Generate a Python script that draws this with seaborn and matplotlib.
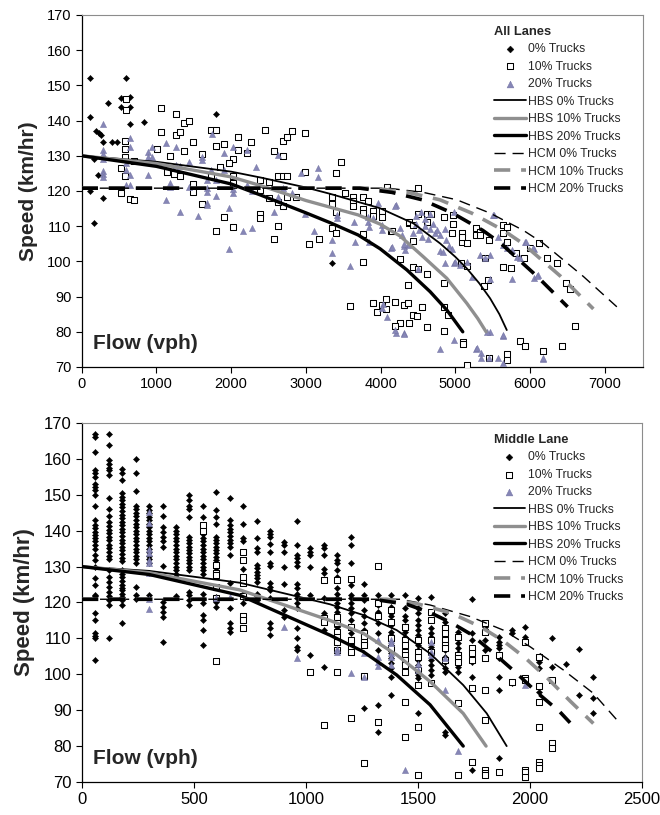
import matplotlib
matplotlib.use("Agg")
import matplotlib.pyplot as plt
import seaborn as sns

sns.set_style("ticks")
plt.rcParams["font.family"] = ["Liberation Sans", "DejaVu Sans"]

# ---------------- All Lanes (top panel) ----------------
all_0 = [(110, 152), (590, 152), (530, 146.5), (645, 146.8), (530, 144), (645, 144),
         (350, 145), (110, 141), (645, 139), (830, 139.5), (1795, 142), (185, 137),
         (230, 136.5), (260, 136), (280, 134), (410, 134), (470, 134), (165, 129),
         (220, 124.5), (110, 120), (290, 118), (170, 111), (3355, 99.5)]

all_10 = [(590, 146), (590, 143), (1060, 143.7), (1260, 142), (1370, 139.4), (1435, 140),
          (1060, 136.7), (1260, 136), (1315, 136.7), (1495, 134), (1730, 137.3), (1795, 137.3),
          (1795, 132.8), (1910, 133.4), (2090, 135.4), (2090, 131.6), (2030, 129.1), (1970, 127.9),
          (1850, 126.9), (2210, 130.7), (2270, 133.9), (2450, 137.3), (2570, 131.5), (2690, 134.2),
          (2750, 135.4), (2810, 137), (2990, 136.6), (2690, 129.9), (2630, 124.3), (2690, 124.3),
          (2750, 124.3), (2990, 125.3), (2510, 122.6), (2390, 123.1), (3405, 125.2), (3465, 128.2),
          (3525, 119.5), (1615, 130.4), (1370, 131.4), (1005, 131.9), (1180, 130), (580, 134.2),
          (580, 131.8), (580, 129.7), (580, 124.3), (705, 128.6), (525, 126.4), (525, 119.3),
          (645, 117.6), (705, 117.4), (1140, 125.3), (1240, 124.9), (1315, 124.4), (1495, 122),
          (1495, 119.6), (1730, 124.4), (2030, 124.3), (2030, 122.4), (2870, 118.4), (2750, 118.4),
          (1615, 116.2), (1795, 108.7), (1910, 112.7), (2030, 109.9), (2390, 113.4), (2390, 112.4),
          (2390, 120.3), (2570, 106.4), (2630, 110.1), (2690, 115.7), (2510, 117.9), (2630, 116.8),
          (3045, 105), (3170, 106.3), (3347, 118.4), (3347, 116.3), (3347, 109.6), (3404, 113.9),
          (3404, 108), (3636, 118.4), (3636, 117.2), (3636, 115.8), (3770, 118.4), (3770, 114.9),
          (3770, 113.7), (3829, 117.2), (3904, 114.4), (3904, 112.9), (4016, 114.4), (4016, 112.5),
          (4083, 121), (4136, 108.6), (3770, 107.7), (3770, 99.9), (3592, 87.3), (3896, 88.3),
          (3949, 85.5), (4016, 87.6), (4074, 89.2), (4074, 86.4), (4372, 93.3), (4261, 100.7),
          (4440, 98.5), (4498, 97.8), (4618, 96.3), (4431, 105.8), (4498, 113.4), (4498, 120.9),
          (4618, 113.4), (4618, 111.3), (4676, 113.4), (4382, 111), (4854, 112.5), (4854, 93.8),
          (4975, 110.5), (4975, 113.2), (5087, 108.2), (5087, 105.6), (5154, 105.1), (5274, 109.6),
          (5274, 107.5), (5332, 108.3), (5332, 107.5), (5452, 106.1), (5644, 110.3), (5636, 108),
          (5689, 105.4), (5689, 109.7), (5636, 98.5), (5747, 98), (5810, 102.3), (5925, 100.9),
          (5390, 93), (5443, 94.7), (5399, 100.9), (4854, 87.1), (4908, 84.8), (4618, 81.4),
          (4854, 80.3), (5108, 77), (5108, 76.4), (5154, 70.6), (5456, 72.6), (5689, 73.6),
          (5689, 72), (5867, 77.4), (5934, 76), (6171, 74.5), (6426, 76), (6604, 81.7),
          (6483, 94), (6537, 92.1), (6233, 101), (6359, 99.5), (6118, 105.3), (6001, 103.9),
          (4315, 87.6), (4372, 88.3), (4440, 84.8), (4494, 84.5), (4552, 87.1), (4261, 82.4),
          (4194, 81.7), (4382, 82.6), (4150, 108.7), (4385, 111.1), (4440, 110.3), (4961, 108),
          (5096, 107), (5083, 99.5), (5154, 98.7), (4188, 88.6)]

all_20 = [(290, 139), (290, 131.6), (290, 130.5), (290, 129), (290, 125.6), (290, 124.7),
          (290, 124), (590, 127.9), (590, 126), (590, 121.7), (645, 135.1), (645, 132.6),
          (645, 124.5), (645, 121.7), (885, 131.2), (885, 129.7), (885, 128.2), (885, 124.5),
          (945, 132.6), (945, 129.7), (1130, 133.7), (1260, 132.6), (1260, 127.4), (1315, 127.2),
          (1440, 128.2), (1440, 121), (1615, 129.7), (1615, 128.8), (1740, 136.1), (1730, 126),
          (1795, 123.1), (1910, 130.7), (1910, 126), (2030, 132.6), (2210, 131.6), (2210, 121.7),
          (2335, 126.9), (2630, 130.2), (2690, 120.8), (2810, 119.5), (2930, 125.2), (3165, 126.4),
          (3165, 124), (1675, 123.1), (1675, 120.8), (1130, 117.4), (1180, 122.2), (1180, 121.2),
          (1315, 114.1), (1560, 112.9), (1675, 119.8), (1675, 116.7), (1675, 116), (1800, 118.6),
          (1975, 115.3), (1975, 103.5), (2030, 119.3), (2030, 120.5), (2155, 108.7), (2275, 109.4),
          (2275, 120), (2575, 114.1), (2630, 118.2), (2990, 113.4), (3110, 108.7), (3347, 106.1),
          (3347, 102.3), (3414, 113.2), (3414, 112.4), (3592, 98.7), (3650, 111.1), (3837, 112.7),
          (3837, 111.1), (3850, 109.9), (3904, 112.2), (3971, 116.7), (3659, 105.6), (3850, 105.4),
          (4141, 103.9), (4203, 116), (4261, 109.6), (4315, 104.4), (4372, 104.7), (4663, 109.1),
          (4729, 108), (4796, 103), (4863, 109.1), (4863, 99.5), (4984, 114.1), (4984, 99.5),
          (5466, 94.9), (5524, 113.2), (5644, 78.9), (5757, 94.9), (5934, 105.6), (6055, 103.5),
          (6055, 95.4), (6113, 96.1), (5466, 80), (4984, 77.7), (4796, 75), (5274, 75.1),
          (5341, 73.9), (5341, 72.5), (5456, 72.5), (5577, 72.5), (5644, 71.1), (6171, 72.3),
          (4203, 79.6), (4315, 79.6), (4083, 84.3), (4029, 87.9), (4194, 115.8), (4016, 110.3),
          (4016, 108.9), (4150, 104.2), (4284, 107.5), (4319, 104.9), (4328, 103.2), (4506, 97.8),
          (4440, 108), (4480, 110.5), (4520, 109), (4560, 107), (4600, 110), (4640, 106.5),
          (4480, 113), (4540, 114), (4600, 112), (4660, 113.5), (4700, 110.5), (4760, 109),
          (4800, 107.5), (4880, 106), (4920, 104.5), (4960, 103.5), (4840, 102.8), (4997, 99.9),
          (5064, 99), (5154, 99.9), (5221, 95.7), (5332, 101.8), (5399, 100.9), (5466, 101.8),
          (5510, 113.2), (5577, 107), (5644, 104.7), (5689, 103.7), (5757, 103.2), (5823, 101.3),
          (5867, 100.9), (5944, 105.6), (6046, 103.7), (6091, 95.8), (6179, 72.5), (4194, 80.5),
          (4315, 79.4), (4016, 86.7), (5288, 75.3), (5636, 79.1), (5421, 80)]

all_hbs0 = [(0, 130), (1000, 128.3), (2000, 125.5), (2400, 123.8), (3000, 121), (3324, 119.2),
            (3993, 115.1), (4439, 110.8), (4797, 105.1), (5000, 101.3), (5154, 98),
            (5320, 93.8), (5466, 89.5), (5590, 85), (5689, 80.5)]
all_hbs10 = [(0, 130), (1000, 127.8), (2000, 124), (2400, 121.5), (3000, 117.3), (3324, 115.4),
             (3700, 113.2), (3993, 110.6), (4261, 107.2), (4573, 101.3), (4886, 95.2),
             (5154, 88.1), (5300, 83.8), (5412, 80)]
all_hbs20 = [(0, 130), (1000, 127), (2000, 122), (2400, 118.8), (3000, 113.8), (3324, 111),
             (3700, 107.5), (3993, 103.6), (4351, 97.6), (4663, 91.4), (4886, 86.2), (5100, 80)]
all_hcm0 = [(0, 120.8), (4100, 120.8), (4573, 119.6), (5020, 117.5), (5467, 113.7),
            (5912, 108.8), (6180, 105.1), (6715, 95.7), (7162, 87.1)]
all_hcm10 = [(0, 120.8), (3915, 120.8), (4367, 119.6), (4794, 117.5), (5221, 113.7),
             (5646, 108.8), (5902, 105.1), (6413, 95.7), (6848, 86.5)]
all_hcm20 = [(0, 120.8), (3723, 120.8), (4152, 119.6), (4558, 117.5), (4964, 113.7),
             (5368, 108.8), (5611, 105.1), (6097, 95.7), (6503, 87.1)]

# ---------------- Middle Lane (bottom panel) ----------------
mid_cols = [60, 120, 180, 240, 300, 360, 420, 480, 540, 600, 660, 720, 780, 840, 900, 960,
            1020, 1080, 1140, 1200, 1260, 1320, 1380, 1440, 1500, 1560, 1620, 1680, 1740,
            1800, 1860, 1920, 1980, 2040, 2100, 2160, 2220, 2280]
mid_speeds0 = [
    [167, 166, 162, 157, 156, 155, 153, 152.3, 151.3, 150, 147, 143, 141.6, 140.7, 139.7,
     138.8, 137.9, 137, 136, 135, 133.2, 131.8, 130, 126.7, 125, 122, 121.8, 117.2, 115,
     111.4, 110.7, 110, 104],
    [167, 164, 159.7, 158.6, 157.6, 156.9, 155.5, 149, 146, 144, 142.5, 141.3, 140.2, 139.3,
     138.3, 137.4, 136, 135.1, 134.2, 133, 132, 129, 127.2, 125.8, 124.4, 123, 121.8, 120.7,
     119.3, 110],
    [157.2, 156, 154.1, 150.5, 149.5, 148.5, 147.5, 146.5, 145.5, 144.5, 143.5, 142.5, 141.5,
     140.5, 139.5, 138.5, 137.5, 136.5, 135.5, 134.5, 133.5, 132.5, 131.5, 129, 128, 127, 126,
     125, 124, 123.5, 122.5, 121.6, 120.7, 119.3, 114.2],
    [160, 156, 151, 147, 146, 145, 144, 143, 142, 141, 140, 139, 138, 137, 136, 135, 134, 133,
     132, 131, 124.4, 122.1, 121],
    [147, 145.8, 144.9, 143.9, 142.9, 141.9, 141, 140, 139, 138, 137, 136, 135, 134, 133, 132,
     131, 128.1, 122.1],
    [147, 144.2, 141.1, 139.7, 138.3, 137, 135.5, 130.3, 120.2, 118.8, 117.4, 116, 109],
    [141, 140, 139, 138, 137, 136, 135, 134, 133, 132, 131, 130, 129, 128, 127, 121.7],
    [150, 148.5, 147, 146, 143.7, 138.3, 137.4, 136.5, 135.5, 134.6, 133.7, 132.8, 131.8,
     130.9, 130, 129, 123, 122, 120.7, 119.3],
    [147, 143.9, 141, 140, 139, 138, 137, 136, 135, 134, 133, 132, 131, 130, 129, 128, 122.5,
     121, 119.8, 116.5, 115, 112.3, 108.2],
    [150.9, 145.9, 143.9, 142, 138.3, 137.4, 136.5, 135.5, 134.6, 133.7, 132.8, 131.8, 129.5,
     128.6, 127.7, 121.6, 120.2, 118.8],
    [149, 143, 141.6, 140.5, 139.5, 138.5, 137.5, 136.5, 135.5, 133.2, 125.3, 118.4, 114.2,
     112.8, 111.9],
    [146.9, 141.9, 137.9, 137, 134.2, 129.2, 127.2, 126.3, 122.5, 121.6, 119.8],
    [142.8, 138.1, 135.1, 134.2, 130.4, 129.5, 128.6, 127.7, 126.7, 125.8, 122.5, 121.8, 120.7],
    [140, 139.1, 138.2, 136.3, 134.2, 131.1, 130.2, 125.3, 124.4, 123.5, 121.2, 114.2, 112.8, 111],
    [136.9, 136, 134.2, 130, 125.1, 117.9, 116],
    [142.8, 136, 133.2, 132.3, 131.4, 130.2, 125.1, 123.9, 122.5, 121.2, 119.8, 118.4, 112.8,
     110, 107.7, 106.8],
    [135.1, 134.2, 133.2, 129.8, 122.1, 105.4],
    [136, 135.1, 133.2, 129.2, 128.1, 126.3, 121.2, 117.2, 112.2, 102.1],
    [133.2, 131.8, 130.9, 129.1, 127.2, 126.3, 124, 122.5, 121.2, 119.8, 118.8, 117.4, 116.1,
     114.2, 113.3],
    [138.3, 136, 130.9, 126.3, 124.9, 122.1, 121.2, 119.8, 118.4, 117, 115.1, 113.3, 111.4],
    [125.1, 122.1, 120.7, 117.9, 116.1, 114.2, 112.3, 110.5, 108.6, 90.5],
    [122.1, 119.3, 117.4, 116.5, 114.2, 111.4, 106.8, 91.4, 84],
    [122.1, 118.8, 117, 116.1, 114.7, 113.7, 111.9, 111, 109.6, 108.2, 106.8, 105.8, 104.4,
     103.1, 101.7, 99.3, 94.2],
    [122.1, 118.4, 116.1, 115.1, 113.3, 111.9, 110.5, 109.1, 107.7, 106.3, 104.9, 104, 102.9,
     101.2],
    [121.2, 118.4, 117, 115.1, 113.7, 112.3, 110.9, 109.6, 108.2, 106.8, 105.4, 104, 102.6,
     101.2, 99.8, 98.9, 89.1],
    [121.6, 117.4, 115.1, 112.8, 111.4, 110.5, 109.1, 107.7, 105.8, 104, 102.6, 101.2, 99.8],
    [117, 114.7, 113.3, 111.9, 110.5, 109.1, 108.2, 106.8, 104.9, 103.5, 101.7, 100.7, 84, 83.1],
    [111.9, 110.5, 108.6, 107.2, 105.8, 104.9, 103.5, 102.1, 100.7],
    [120.9, 111.4, 109.6, 107.2, 103.5, 99.3, 96.1, 73.3],
    [113.3, 111.9, 109.6, 106.8, 104.4],
    [110.5, 109.1, 108.2, 107.2, 105.4, 104.4, 99.3, 95.6, 76.6],
    [112.3, 111.4, 97.5],
    [113.3, 110.5, 98.9],
    [104.9, 103.5, 101.7, 95.2],
    [110, 102.1],
    [103],
    [107, 94.2],
    [99.2, 93.3, 89.1],
]

mid_10 = [(540, 141.5), (540, 140), (600, 130.4), (600, 128.3), (600, 127.6), (600, 124.4),
          (600, 121.2), (600, 103.7), (720, 134.2), (720, 131.7), (720, 127), (720, 125.3),
          (720, 121.8), (720, 116.1), (720, 115.1), (720, 112.8), (1020, 100.7), (1080, 126.3),
          (1080, 115.6), (1080, 114.6), (1080, 85.9), (1140, 126.3), (1140, 116), (1140, 114.2),
          (1140, 111.9), (1140, 110.5), (1140, 109.1), (1140, 106.8), (1140, 100.7), (1200, 126.6),
          (1200, 113.3), (1200, 109.5), (1200, 107.7), (1200, 106.3), (1200, 87.7), (1260, 111.4),
          (1260, 110.5), (1260, 109.1), (1260, 108.2), (1260, 99.5), (1260, 75.2), (1320, 130.2),
          (1320, 119.8), (1320, 116.1), (1320, 86.8), (1380, 117.9), (1380, 114.7), (1380, 110),
          (1380, 107.2), (1440, 113.3), (1440, 109.6), (1440, 108.2), (1440, 106.3), (1440, 105.4),
          (1440, 104), (1440, 102.6), (1440, 100.7), (1440, 92.4), (1440, 82.6), (1500, 109.6),
          (1500, 106.3), (1500, 104.9), (1500, 101.2), (1500, 97), (1500, 85.4), (1500, 71.9),
          (1560, 117.4), (1560, 115.1), (1560, 109.6), (1560, 106.3), (1560, 97.5), (1620, 112.8),
          (1620, 111.4), (1620, 109.6), (1620, 108.2), (1620, 107.2), (1620, 104), (1680, 110.5),
          (1680, 105.4), (1680, 104.4), (1680, 103.5), (1680, 91.9), (1680, 71.9), (1740, 107.2),
          (1740, 105.8), (1740, 104), (1740, 96.1), (1740, 75.7), (1800, 114.2), (1800, 111.9),
          (1800, 104.4), (1800, 95.6), (1800, 87.3), (1800, 73.3), (1800, 72.6), (1800, 71.9),
          (1860, 105.4), (1860, 72.9), (1920, 97.9), (1980, 109.1), (1980, 98.9), (1980, 98.4),
          (1980, 73.3), (1980, 72.9), (1980, 71.5), (2040, 104.9), (2040, 96.6), (2040, 92.4),
          (2040, 85.4), (2040, 75.7), (2040, 74.7), (2040, 73.8), (2100, 98.4), (2100, 80.8),
          (2100, 79.4)]

mid_20 = [(300, 145.3), (300, 142.2), (300, 135), (300, 133.7), (300, 131.8), (300, 131.1),
          (300, 128.1), (300, 121), (300, 118.1), (600, 121.2), (660, 121.5), (900, 113.1),
          (960, 104.5), (1140, 107), (1140, 106.3), (1200, 100.3), (1260, 105.8), (1260, 99.3),
          (1320, 109.5), (1320, 104.9), (1320, 103.5), (1320, 102.3), (1380, 109.6), (1380, 108.6),
          (1380, 105.8), (1380, 104.9), (1380, 102.6), (1440, 73.3), (1500, 103), (1500, 101.2),
          (1560, 109.1), (1560, 106.3), (1560, 105.4), (1620, 104.4), (1620, 95.6), (1680, 78.5),
          (1980, 97)]

mid_hbs0 = [(0, 130), (300, 128.8), (705, 125.5), (1107, 119.5), (1256, 116.5), (1405, 112.3),
            (1554, 105.8), (1702, 97), (1807, 89.1), (1896, 80)]
mid_hbs10 = [(0, 130), (300, 128.3), (705, 123.5), (1107, 115), (1256, 111.4), (1405, 105.4),
             (1554, 98), (1702, 89.1), (1804, 80)]
mid_hbs20 = [(0, 130), (300, 127.8), (705, 122), (1107, 110.9), (1256, 106.3), (1405, 99.8),
             (1554, 91.5), (1702, 80)]
mid_hcm0 = [(0, 120.9), (1420, 120.9), (1554, 119.3), (1732, 116.1), (1881, 112.3),
            (2000, 107.7), (2149, 101.2), (2283, 94.7), (2402, 86.3)]
mid_hcm10 = [(0, 120.9), (1360, 120.9), (1500, 119.6), (1650, 117), (1780, 113.2),
             (1881, 109.3), (1980, 104.5), (2080, 98.8), (2180, 92.5), (2283, 86.3)]
mid_hcm20 = [(0, 120.9), (1300, 120.9), (1450, 119.5), (1554, 117.2), (1650, 114.3),
             (1735, 111.2), (1836, 106), (1940, 100.3), (2030, 95), (2134, 89.5), (2179, 86.5)]

labels = ["0% Trucks", "10% Trucks", "20% Trucks", "HBS 0% Trucks", "HBS 10% Trucks",
          "HBS 20% Trucks", "HCM 0% Trucks", "HCM 10% Trucks", "HCM 20% Trucks"]

TRI = "#8686B6"
GREY = "#8F8F8F"


def xy(pairs):
    return [p[0] for p in pairs], [p[1] for p in pairs]


def draw_panel(ax, pts0, pts10, pts20, curves, title, xmax, xticks, tick_fs, lab_fs):
    x, y = xy(pts0)
    sns.scatterplot(x=x, y=y, ax=ax, marker="D", s=10, color="black", edgecolor="black",
                    linewidth=0.3, label=labels[0], zorder=3)
    x, y = xy(pts10)
    sns.scatterplot(x=x, y=y, ax=ax, marker="s", s=14, color="white", edgecolor="black",
                    linewidth=0.75, label=labels[1], zorder=3)
    x, y = xy(pts20)
    sns.scatterplot(x=x, y=y, ax=ax, marker="^", s=20, color=TRI, edgecolor="#6F6FA0",
                    linewidth=0.3, label=labels[2], zorder=3)

    styles = [
        dict(color="black", lw=1.3, ls="-"),
        dict(color=GREY, lw=2.4, ls="-"),
        dict(color="black", lw=2.4, ls="-"),
        dict(color="black", lw=1.0, ls=(0, (8, 5))),
        dict(color=GREY, lw=2.6, ls=(0, (4.5, 3))),
        dict(color="black", lw=2.6, ls=(0, (4.5, 3))),
    ]
    for pairs, st, lab in zip(curves, styles, labels[3:]):
        x, y = xy(pairs)
        sns.lineplot(x=x, y=y, ax=ax, sort=False, estimator=None, color=st["color"],
                     linewidth=st["lw"], linestyle=st["ls"], label=lab, zorder=4)

    ax.set_xlim(0, xmax)
    ax.set_ylim(70, 170)
    ax.set_xticks(xticks)
    ax.set_yticks(range(70, 171, 10))
    ax.tick_params(axis="both", direction="out", length=4, width=0.8, labelsize=tick_fs,
                   colors="black")
    ax.set_xlabel("")
    ax.set_ylabel("Speed (km/hr)", fontsize=lab_fs, fontweight="bold", labelpad=6)
    for side in ["top", "right"]:
        ax.spines[side].set_visible(True)
        ax.spines[side].set_color("#8C8C8C")
        ax.spines[side].set_linewidth(0.8)
    for side in ["left", "bottom"]:
        ax.spines[side].set_color("black")
        ax.spines[side].set_linewidth(0.9)
    ax.text(0.02, 0.04, "Flow (vph)", transform=ax.transAxes, fontsize=15,
            fontweight="bold", ha="left", va="bottom")

    handles, labs = ax.get_legend_handles_labels()
    leg = ax.legend(handles, labs, loc="upper left", bbox_to_anchor=(0.735, 0.97),
                    frameon=False, fontsize=8.8, title=title, alignment="left",
                    title_fontproperties={"weight": "bold", "size": 9.3},
                    handlelength=2.6, handletextpad=0.2, labelspacing=0.45,
                    borderpad=0, borderaxespad=0, scatterpoints=1, markerscale=1.1)
    leg.set_zorder(10)


fig = plt.figure(figsize=(6.6, 8.15), dpi=100)
ax1 = fig.add_axes([0.1238, 0.5497, 0.8502, 0.4319])
ax2 = fig.add_axes([0.1242, 0.0405, 0.8485, 0.4405])

draw_panel(ax1, all_0, all_10, all_20,
           [all_hbs0, all_hbs10, all_hbs20, all_hcm0, all_hcm10, all_hcm20],
           "All Lanes", 7510, range(0, 7001, 1000), 10.5, 15)

mid_0 = [(c, s) for c, col in zip(mid_cols, mid_speeds0) for s in col]
draw_panel(ax2, mid_0, mid_10, mid_20,
           [mid_hbs0, mid_hbs10, mid_hbs20, mid_hcm0, mid_hcm10, mid_hcm20],
           "Middle Lane", 2500, range(0, 2501, 500), 12, 16)

fig.savefig("out.png", dpi=100)
